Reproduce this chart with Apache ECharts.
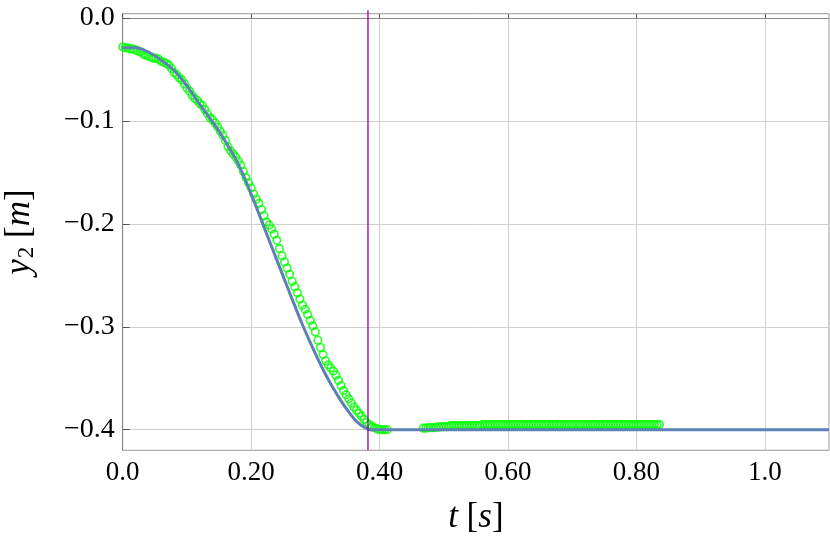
<!DOCTYPE html>
<html>
<head>
<meta charset="utf-8">
<script src="https://cdn.jsdelivr.net/npm/echarts@6/dist/echarts.min.js"></script>
<style>html,body{margin:0;padding:0;background:#fff}#c{width:830px;height:550px}</style>
</head>
<body>
<div id="c"></div>
<script>
// Model curve (blue)
const modelT = [0.00,0.02,0.04,0.06,0.08,0.10,0.12,0.14,0.16,0.18,0.20,0.22,0.24,0.26,0.28,0.30,0.32,0.34,0.35,0.36,0.37,0.375,0.38,0.385,0.39,0.40,1.10];
const modelY = [-0.029,-0.029,-0.033,-0.041,-0.051,-0.066,-0.084,-0.101,-0.120,-0.142,-0.171,-0.203,-0.235,-0.267,-0.298,-0.326,-0.351,-0.372,-0.381,-0.389,-0.395,-0.397,-0.399,-0.400,-0.400,-0.400,-0.400];

// Measured points (green), first segment
const measA = [
[0.000,-0.028],[0.004,-0.029],[0.008,-0.029],[0.012,-0.030],[0.016,-0.030],[0.020,-0.031],[0.024,-0.032],[0.028,-0.033],
[0.032,-0.035],[0.036,-0.036],[0.040,-0.037],[0.044,-0.038],[0.048,-0.039],[0.052,-0.039],[0.056,-0.040],[0.060,-0.042],
[0.064,-0.043],[0.068,-0.044],[0.072,-0.046],[0.076,-0.049],[0.080,-0.053],[0.084,-0.055],[0.088,-0.058],[0.092,-0.060],
[0.096,-0.064],[0.100,-0.068],[0.104,-0.071],[0.108,-0.075],[0.112,-0.078],[0.116,-0.080],[0.120,-0.083],[0.124,-0.085],
[0.128,-0.089],[0.132,-0.093],[0.136,-0.097],[0.140,-0.099],[0.144,-0.102],[0.148,-0.106],[0.152,-0.110],[0.156,-0.114],
[0.160,-0.119],[0.164,-0.125],[0.168,-0.129],[0.172,-0.132],[0.176,-0.135],[0.180,-0.139],[0.184,-0.143],[0.188,-0.149],
[0.192,-0.155],[0.196,-0.160],[0.200,-0.165],[0.204,-0.171],[0.208,-0.176],[0.212,-0.180],[0.216,-0.186],[0.220,-0.192],
[0.224,-0.198],[0.228,-0.201],[0.232,-0.205],[0.236,-0.210],[0.240,-0.216],[0.244,-0.224],[0.248,-0.231],[0.252,-0.237],
[0.256,-0.243],[0.260,-0.249],[0.264,-0.256],[0.268,-0.261],[0.272,-0.267],[0.276,-0.273],[0.280,-0.279],[0.284,-0.283],
[0.288,-0.288],[0.292,-0.294],[0.296,-0.299],[0.300,-0.305],[0.304,-0.313],[0.308,-0.320],[0.312,-0.327],[0.316,-0.333],
[0.320,-0.337],[0.324,-0.340],[0.328,-0.343],[0.332,-0.347],[0.336,-0.352],[0.340,-0.357],[0.344,-0.362],[0.348,-0.366],
[0.352,-0.370],[0.356,-0.374],[0.360,-0.378],[0.364,-0.381],[0.368,-0.384],[0.372,-0.387],[0.376,-0.390],[0.380,-0.393],
[0.384,-0.395],[0.388,-0.397],[0.392,-0.398],[0.396,-0.399],[0.400,-0.400],[0.404,-0.400],[0.408,-0.400],[0.412,-0.400]
];
// Measured points (green), second segment
const measB = [
[0.468,-0.3985],[0.472,-0.3985],[0.476,-0.398],[0.480,-0.398],[0.484,-0.398],[0.488,-0.3975],[0.492,-0.3975],[0.496,-0.397],
[0.500,-0.397],[0.504,-0.397],[0.508,-0.3965],[0.512,-0.396],[0.516,-0.396],[0.520,-0.396],[0.524,-0.396],[0.528,-0.396],
[0.532,-0.396],[0.536,-0.396],[0.540,-0.396],[0.544,-0.396],[0.548,-0.396],[0.552,-0.396],[0.556,-0.396],[0.560,-0.395],
[0.564,-0.395],[0.568,-0.395],[0.572,-0.395],[0.576,-0.395],[0.580,-0.395],[0.584,-0.395],[0.588,-0.395],[0.592,-0.395],
[0.596,-0.395],[0.600,-0.395],[0.604,-0.395],[0.608,-0.395],[0.612,-0.395],[0.616,-0.395],[0.620,-0.395],[0.624,-0.395],
[0.628,-0.395],[0.632,-0.395],[0.636,-0.395],[0.640,-0.395],[0.644,-0.395],[0.648,-0.395],[0.652,-0.395],[0.656,-0.395],
[0.660,-0.395],[0.664,-0.395],[0.668,-0.395],[0.672,-0.395],[0.676,-0.395],[0.680,-0.395],[0.684,-0.395],[0.688,-0.395],
[0.692,-0.395],[0.696,-0.395],[0.700,-0.395],[0.704,-0.395],[0.708,-0.395],[0.712,-0.395],[0.716,-0.395],[0.720,-0.395],
[0.724,-0.395],[0.728,-0.395],[0.732,-0.395],[0.736,-0.395],[0.740,-0.395],[0.744,-0.395],[0.748,-0.395],[0.752,-0.395],
[0.756,-0.395],[0.760,-0.395],[0.764,-0.395],[0.768,-0.395],[0.772,-0.395],[0.776,-0.395],[0.780,-0.395],[0.784,-0.395],
[0.788,-0.395],[0.792,-0.395],[0.796,-0.395],[0.800,-0.395],[0.804,-0.395],[0.808,-0.395],[0.812,-0.395],[0.816,-0.395],
[0.820,-0.395],[0.824,-0.395],[0.828,-0.395],[0.832,-0.395],[0.836,-0.395]
];

// Event marker (purple vertical line)
const eventT = [0.382, 0.382];
const eventY = [0.0075, -0.42];

const xTickValues = [0, 0.2, 0.4, 0.6, 0.8, 1.0];
const xTickLabels = ['0.0', '0.20', '0.40', '0.60', '0.80', '1.0'];
const yTickValues = [-0.4, -0.3, -0.2, -0.1, 0.0];
const yTickLabels = ['\u22120.4', '\u22120.3', '\u22120.2', '\u22120.1', '0.0'];

const FONT = 'Liberation Serif';
const chart = echarts.init(document.getElementById('c'), null, {renderer: 'canvas'});

function lab(vals, labels) {
  return function (v) {
    for (let i = 0; i < vals.length; i++) if (Math.abs(vals[i] - v) < 1e-6) return labels[i];
    return '';
  };
}

const richName = {
  i: {fontFamily: FONT, fontStyle: 'italic', fontSize: 35, color: '#000'},
  n: {fontFamily: FONT, fontSize: 35, color: '#000'},
  sub: {fontFamily: FONT, fontSize: 23, color: '#000', padding: [14, 0, 0, 1]}
};

const greenStyle = {color: 'rgba(0,0,0,0)', borderColor: '#00ff00', borderWidth: 1.7};

chart.setOption({
  animation: false,
  backgroundColor: '#fff',
  grid: {left: 122.7, right: 1, top: 13.7, bottom: 99.7, show: true, borderColor: '#999', borderWidth: 1,
         containLabel: false, outerBoundsMode: 'none'},
  xAxis: {
    type: 'value', min: 0, max: 1.1, interval: 0.2,
    axisLine: {show: true, lineStyle: {color: '#888', width: 1}},
    axisTick: {show: true, inside: true, length: 4, lineStyle: {color: '#555'}},
    axisLabel: {show: true, showMaxLabel: false, formatter: lab(xTickValues, xTickLabels), fontFamily: FONT, fontSize: 27, color: '#000', margin: 9},
    splitLine: {show: true, lineStyle: {color: '#d0d0d0', width: 1}},
    name: '{i|t}{n| [}{i|s}{n|]}',
    nameLocation: 'middle', nameGap: 50,
    nameTextStyle: {rich: richName}
  },
  yAxis: {
    type: 'value', min: -0.42, max: 0.0042,
    axisLine: {show: true, lineStyle: {color: '#888', width: 1}},
    axisTick: {show: true, inside: true, length: 7, lineStyle: {color: '#555'}, customValues: yTickValues},
    axisLabel: {show: true, customValues: yTickValues, formatter: lab(yTickValues, yTickLabels), fontFamily: FONT, fontSize: 28, color: '#000', margin: 8},
    splitLine: {show: true, lineStyle: {color: '#d0d0d0', width: 1}},
    name: '{i|y}{sub|2}{n| [}{i|m}{n|]}',
    nameLocation: 'middle', nameGap: 84, nameRotate: 90,
    nameTextStyle: {rich: richName}
  },
  series: [
    {type: 'scatter', data: measA, symbol: 'circle', symbolSize: 7.5, z: 2, itemStyle: greenStyle},
    {type: 'scatter', data: measB, symbol: 'circle', symbolSize: 7.5, z: 2, itemStyle: greenStyle},
    {
      type: 'line', data: modelT.map((t, i) => [t, modelY[i]]), smooth: 0.2, showSymbol: false, z: 3,
      lineStyle: {color: '#5E81B5', width: 3}
    },
    {
      type: 'line', data: eventT.map((t, i) => [t, eventY[i]]), showSymbol: false, z: 4, clip: false,
      lineStyle: {color: '#960096', width: 1.3}
    }
  ]
});
</script>
</body>
</html>
